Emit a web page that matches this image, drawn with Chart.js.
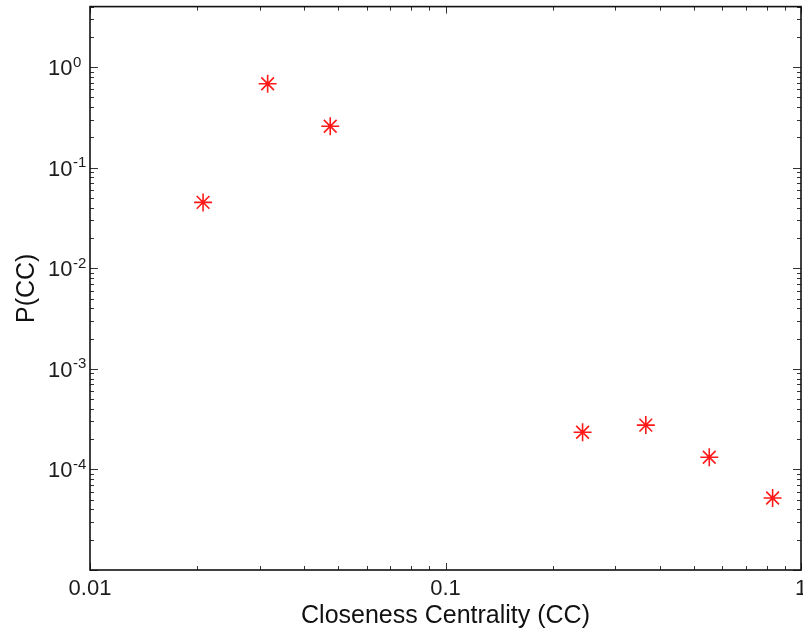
<!DOCTYPE html>
<html>
<head>
<meta charset="utf-8">
<script src="https://cdn.jsdelivr.net/npm/chart.js@4.4.0/dist/chart.umd.min.js"></script>
<style>
  html, body { margin: 0; padding: 0; background: #fff; overflow: hidden; }
  #wrap { width: 803px; height: 634px; overflow: hidden; position: relative; }
  canvas { display: block; margin-top: -4px; }
</style>
</head>
<body>
<div id="wrap"><canvas id="c" width="820" height="638"></canvas></div>
<script>
// ---- data ----
const ccValues = [0.0208, 0.0316, 0.0474, 0.243, 0.366, 0.552, 0.832];
const pValues  = [0.0452, 0.684, 0.2585, 2.34e-4, 2.76e-4, 1.32e-4, 5.2e-5];
const xTickValues = [0.01, 0.1, 1];
const xTickLabels = ['0.01', '0.1', '1'];
const yTickValues = [1, 0.1, 0.01, 0.001, 0.0001];
const yTickExponents = ['0', '-1', '-2', '-3', '-4'];
const xRange = [0.01, 1];
const yRange = [1e-5, 4];
const xTitle = 'Closeness Centrality (CC)';
const yTitle = 'P(CC)';

const FONT = '"Liberation Sans", Arial, sans-serif';
const TEXT = '#1c1c1c';

function decadeMinorValues(min, max) {
  const out = [];
  let k = Math.floor(Math.log10(min));
  for (; Math.pow(10, k) <= max; k++) {
    for (let m = 1; m <= 9; m++) {
      const v = m * Math.pow(10, k);
      if (v >= min * 0.999 && v <= max * 1.001) out.push({ v, major: m === 1 });
    }
  }
  return out;
}

const boxPlugin = {
  id: 'box',
  afterDraw(chart) {
    const { ctx, chartArea: a, scales } = chart;
    const xs = scales.x, ys = scales.y;
    ctx.save();
    ctx.strokeStyle = '#333';
    ctx.lineWidth = 1;
    decadeMinorValues(xRange[0], xRange[1]).forEach(t => {
      const px = Math.round(xs.getPixelForValue(t.v)) + 0.5;
      const len = t.major ? 7 : 4;
      ctx.beginPath();
      ctx.moveTo(px, a.bottom); ctx.lineTo(px, a.bottom - len);
      ctx.moveTo(px, a.top); ctx.lineTo(px, a.top + len);
      ctx.stroke();
    });
    decadeMinorValues(yRange[0], yRange[1]).forEach(t => {
      const py = Math.round(ys.getPixelForValue(t.v)) + 0.5;
      const len = t.major ? 8 : 4;
      ctx.beginPath();
      ctx.moveTo(a.left, py); ctx.lineTo(a.left + len, py);
      ctx.moveTo(a.right, py); ctx.lineTo(a.right - len, py);
      ctx.stroke();
    });
    ctx.strokeStyle = '#111';
    ctx.lineWidth = 1.6;
    ctx.strokeRect(a.left, a.top, a.right - a.left, a.bottom - a.top);
    ctx.fillStyle = TEXT;
    ctx.textAlign = 'left';
    ctx.textBaseline = 'alphabetic';
    yTickValues.forEach((v, i) => {
      const py = ys.getPixelForValue(v);
      ctx.font = '22px ' + FONT;
      const baseX = 48;
      ctx.fillText('10', baseX, py + 8);
      const w = ctx.measureText('10').width;
      ctx.font = '15px ' + FONT;
      ctx.fillText(yTickExponents[i], baseX + w + 0.5, py - 0.5);
    });
    ctx.restore();
  }
};

new Chart(document.getElementById('c'), {
  type: 'scatter',
  data: {
    datasets: [{
      data: ccValues.map((x, i) => ({ x, y: pValues[i] })),
      pointStyle: 'star',
      pointRadius: 9,
      pointHoverRadius: 9,
      borderColor: '#ff1a1a',
      backgroundColor: '#ff1a1a',
      pointBorderWidth: 1.6,
      showLine: false
    }]
  },
  plugins: [boxPlugin],
  options: {
    responsive: false,
    animation: false,
    events: [],
    layout: { padding: { top: 3, right: 19, left: 0, bottom: 0 } },
    plugins: { legend: { display: false }, tooltip: { enabled: false } },
    scales: {
      x: {
        type: 'logarithmic',
        min: xRange[0], max: xRange[1],
        afterBuildTicks: s => { s.ticks = xTickValues.map(v => ({ value: v })); },
        afterFit: s => { s.height = 64; },
        grid: { display: false, drawTicks: false, tickLength: 0 },
        border: { display: false },
        ticks: {
          autoSkip: false, maxRotation: 0, padding: 6,
          color: TEXT,
          font: { family: FONT, size: 22 },
          callback: (v) => { const i = xTickValues.indexOf(v); return i >= 0 ? xTickLabels[i] : ''; }
        },
        title: {
          display: true, text: xTitle, color: '#111',
          font: { family: FONT, size: 25 },
          padding: { top: 0, bottom: 3 }
        }
      },
      y: {
        type: 'logarithmic',
        min: yRange[0], max: yRange[1],
        afterBuildTicks: s => { s.ticks = yTickValues.map(v => ({ value: v })); },
        afterFit: s => { s.width = 90; },
        grid: { display: false, drawTicks: false, tickLength: 0 },
        border: { display: false },
        ticks: { display: false },
        title: {
          display: true, text: yTitle, color: '#111',
          font: { family: FONT, size: 25 },
          padding: { top: 12, bottom: 0 }
        }
      }
    }
  }
});
</script>
</body>
</html>
